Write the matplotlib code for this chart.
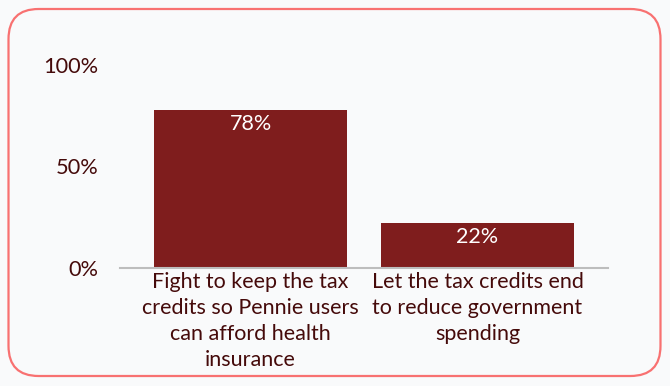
import matplotlib.pyplot as plt
from matplotlib.patches import FancyBboxPatch

categories = [
    "Fight to keep the tax\ncredits so Pennie users\ncan afford health\ninsurance",
    "Let the tax credits end\nto reduce government\nspending",
]
values = [78, 22]
yticks = [0, 50, 100]
ytick_labels = ["0%", "50%", "100%"]

BAR = "#7f1d1d"
TEXT = "#450a0a"
BORDER = "#f87171"
BG = "#f9fafb"

plt.rcParams["font.family"] = ["Lato", "DejaVu Sans"]

W, H = 670, 386
fig = plt.figure(figsize=(W / 100, H / 100), dpi=100, facecolor=BG)

# rounded card border, kept behind the axes
card = FancyBboxPatch((8.5 / W, 10 / H), 652 / W, 367 / H,
                      boxstyle="round,pad=0,rounding_size=0.045",
                      transform=fig.transFigure, facecolor=BG,
                      edgecolor=BORDER, linewidth=1.6,
                      mutation_aspect=W / H, zorder=-10)
fig.patches.append(card)

ax = fig.add_axes([120 / W, 1 - 268 / H, 488 / W, 203 / H])
ax.set_facecolor("none")

x = range(len(values))
bars = ax.bar(x, values, width=0.85, color=BAR, zorder=2)

for rect, v in zip(bars, values):
    ax.text(rect.get_x() + rect.get_width() / 2, v - 2.0, f"{v}%",
            ha="center", va="top", color="white", fontsize=15.5)

ax.set_xlim(-0.575, 1.575)
ax.set_ylim(0, 100)
ax.set_yticks(yticks)
ax.set_yticklabels(ytick_labels)
ax.set_xticks(list(x))
ax.set_xticklabels(categories, linespacing=1.38)

ax.tick_params(axis="y", length=0, pad=15.5, labelsize=15.7, labelcolor=TEXT)
ax.tick_params(axis="x", length=0, pad=3, labelsize=15.5, labelcolor=TEXT)

for side in ["top", "right", "left"]:
    ax.spines[side].set_visible(False)
ax.spines["bottom"].set_color("#bdbdbd")
ax.spines["bottom"].set_linewidth(1.5)
ax.spines["bottom"].set_zorder(3)

fig.savefig("out.png", dpi=100, facecolor=BG)
